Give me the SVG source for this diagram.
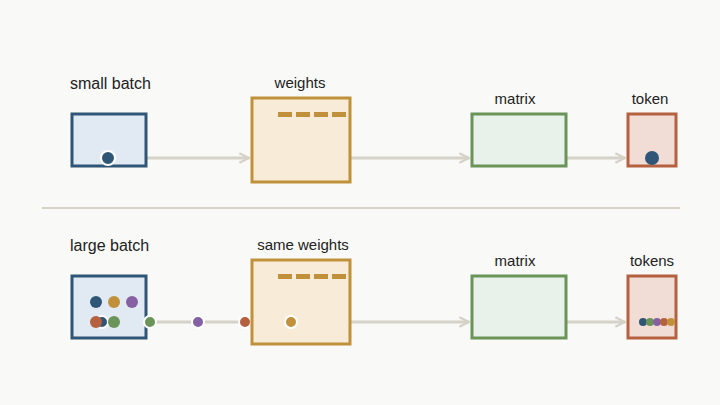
<svg xmlns="http://www.w3.org/2000/svg" width="720" height="405" viewBox="0 0 720 405">
<style>
text{font-family:"Liberation Sans",Arial,sans-serif;fill:#222}
.l{font-size:16px}.m{font-size:15px}
.c{stroke:#d6d2c8;stroke-width:3;fill:none}
.d{stroke:#fff;stroke-width:2}
</style>
<defs><marker id="a" viewBox="0 0 10 10" refX="9" refY="5" markerWidth="4" markerHeight="4" orient="auto"><path d="M1,1 L9,5 L1,9" fill="none" stroke="#d6d2c8" stroke-width="2"/></marker></defs>
<rect width="720" height="405" fill="#f9f9f7"/>
<g id="connectors">
<line class="c" x1="147" y1="158" x2="249" y2="158" marker-end="url(#a)"/>
<line class="c" x1="351" y1="158" x2="469" y2="158" marker-end="url(#a)"/>
<line class="c" x1="567" y1="158" x2="625" y2="158" marker-end="url(#a)"/>
<line x1="42" y1="208" x2="680" y2="208" stroke="#d6d2c8" stroke-width="2"/>
<line class="c" x1="150" y1="322" x2="250" y2="322"/>
<line class="c" x1="351" y1="322" x2="469" y2="322" marker-end="url(#a)"/>
<line class="c" x1="567" y1="322" x2="625" y2="322" marker-end="url(#a)"/>
</g>
<g id="small">
<text class="l" x="70" y="89">small batch</text>
<rect x="72" y="114" width="74" height="52" fill="#e1eaf3" stroke="#2f5577" stroke-width="3"/>
<circle class="d" cx="108" cy="158" r="7" fill="#2f5577"/>
</g>
<g id="weights1">
<text class="m" x="300" y="88" text-anchor="middle">weights</text>
<rect x="252" y="98" width="98" height="84" fill="#f8ecd8" stroke="#c0913a" stroke-width="3"/>
<g fill="#c0913a"><rect x="278" y="112" width="14" height="5"/><rect x="296" y="112" width="14" height="5"/><rect x="314" y="112" width="14" height="5"/><rect x="332" y="112" width="14" height="5"/></g>
</g>
<g id="matrix1">
<text class="m" x="515" y="104" text-anchor="middle">matrix</text>
<rect x="472" y="114" width="94" height="52" fill="#e8f2ea" stroke="#6a9458" stroke-width="3"/>
</g>
<g id="token1">
<text class="m" x="650" y="104" text-anchor="middle">token</text>
<rect x="628" y="114" width="48" height="52" fill="#f1ddd5" stroke="#b5603f" stroke-width="3"/>
<circle cx="652" cy="158" r="7" fill="#2f5577"/>
</g>
<g id="large">
<text class="l" x="70" y="251">large batch</text>
<rect x="72" y="276" width="74" height="62" fill="#e1eaf3" stroke="#2f5577" stroke-width="3"/>
<circle cx="96" cy="302" r="6" fill="#2f5577"/>
<circle cx="114" cy="302" r="6" fill="#c0913a"/>
<circle cx="132" cy="302" r="6" fill="#8561a3"/>
<circle class="d" cx="102" cy="322" r="6" fill="#2f5577"/>
<circle cx="96" cy="322" r="6" fill="#b5603f"/>
<circle cx="114" cy="322" r="6" fill="#6a9458"/>
</g>
<g id="moving">
<circle class="d" cx="150" cy="322" r="6" fill="#6a9458"/>
<circle class="d" cx="198" cy="322" r="6" fill="#8561a3"/>
<circle class="d" cx="245" cy="322" r="6" fill="#b5603f"/>
</g>
<g id="weights2">
<text class="m" x="303" y="250" text-anchor="middle">same weights</text>
<rect x="252" y="260" width="98" height="84" fill="#f8ecd8" stroke="#c0913a" stroke-width="3"/>
<g fill="#c0913a"><rect x="278" y="274" width="14" height="5"/><rect x="296" y="274" width="14" height="5"/><rect x="314" y="274" width="14" height="5"/><rect x="332" y="274" width="14" height="5"/></g>
<circle class="d" cx="291" cy="322" r="6" fill="#c0913a"/>
</g>
<g id="matrix2">
<text class="m" x="515" y="266" text-anchor="middle">matrix</text>
<rect x="472" y="276" width="94" height="62" fill="#e8f2ea" stroke="#6a9458" stroke-width="3"/>
</g>
<g id="tokens2">
<text class="m" x="652" y="266" text-anchor="middle">tokens</text>
<rect x="628" y="276" width="48" height="62" fill="#f1ddd5" stroke="#b5603f" stroke-width="3"/>
<circle cx="643" cy="322" r="4" fill="#2f5577"/>
<circle cx="650" cy="322" r="4" fill="#6a9458"/>
<circle cx="657" cy="322" r="4" fill="#8561a3"/>
<circle cx="664" cy="322" r="4" fill="#b5603f"/>
<circle cx="671" cy="322" r="4" fill="#c0913a"/>
</g>
</svg>
